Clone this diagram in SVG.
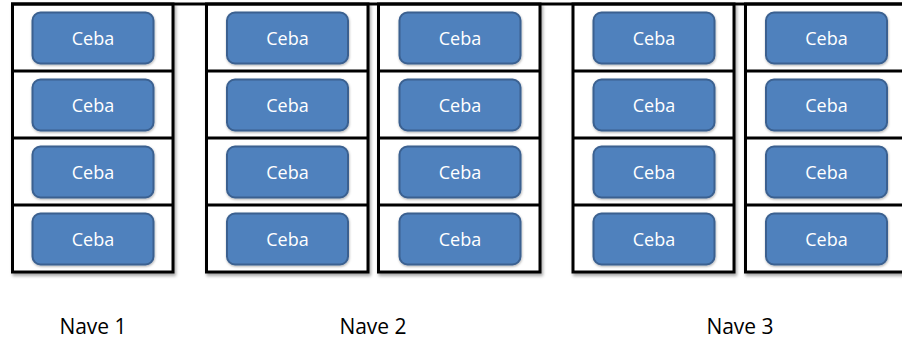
<svg xmlns="http://www.w3.org/2000/svg" width="902" height="339" viewBox="0 0 902 339">
  <defs>
    <filter id="shadow" x="-5%" y="-5%" width="115%" height="115%">
      <feDropShadow dx="1.5" dy="2.5" stdDeviation="1.5" flood-color="#000" flood-opacity="0.35"/>
    </filter>
    <filter id="boxShadow" x="-5%" y="-10%" width="115%" height="125%">
      <feDropShadow dx="0.5" dy="1.2" stdDeviation="0.8" flood-color="#000" flood-opacity="0.3"/>
    </filter>
    <!-- one pen (ceba pen) with its box centred in the cell -->
    <g id="pen">
      <rect class="box" x="0" y="0" width="121" height="51" rx="8" ry="8" filter="url(#boxShadow)"/>
      <text class="lbl" x="60.5" y="32">Ceba</text>
    </g>
  </defs>
  <style>
    .col { fill: #fff; stroke: #000; stroke-width: 3; }
    .sep { stroke: #000; stroke-width: 3; fill: none; }
    .box { fill: #4F81BD; stroke: #3B6190; stroke-width: 2; }
    .lbl { font-family: "Open Sans", "Noto Sans", sans-serif; font-size: 18px; fill: #fff; text-anchor: middle; }
    .nave { font-family: "Open Sans", "Noto Sans", sans-serif; font-size: 21px; fill: #000; text-anchor: middle; }
  </style>

  <rect width="902" height="339" fill="#fff"/>

  <!-- barn columns -->
  <g id="col1">
    <rect class="col" x="12.5" y="4" width="160.5" height="268" filter="url(#shadow)"/>
    <path class="sep" d="M12.5 71H173M12.5 138H173M12.5 205H173"/>
    <use href="#pen" x="32.5" y="12.5"/>
    <use href="#pen" x="32.5" y="79.5"/>
    <use href="#pen" x="32.5" y="146.5"/>
    <use href="#pen" x="32.5" y="213.5"/>
  </g>
  <g id="col2">
    <rect class="col" x="206.5" y="4" width="161.5" height="268" filter="url(#shadow)"/>
    <path class="sep" d="M206.5 71H368M206.5 138H368M206.5 205H368"/>
    <use href="#pen" x="227" y="12.5"/>
    <use href="#pen" x="227" y="79.5"/>
    <use href="#pen" x="227" y="146.5"/>
    <use href="#pen" x="227" y="213.5"/>
  </g>
  <g id="col3">
    <rect class="col" x="378.5" y="4" width="161.5" height="268" filter="url(#shadow)"/>
    <path class="sep" d="M378.5 71H540M378.5 138H540M378.5 205H540"/>
    <use href="#pen" x="399.5" y="12.5"/>
    <use href="#pen" x="399.5" y="79.5"/>
    <use href="#pen" x="399.5" y="146.5"/>
    <use href="#pen" x="399.5" y="213.5"/>
  </g>
  <g id="col4">
    <rect class="col" x="573" y="4" width="161" height="268" filter="url(#shadow)"/>
    <path class="sep" d="M573 71H734M573 138H734M573 205H734"/>
    <use href="#pen" x="593.5" y="12.5"/>
    <use href="#pen" x="593.5" y="79.5"/>
    <use href="#pen" x="593.5" y="146.5"/>
    <use href="#pen" x="593.5" y="213.5"/>
  </g>
  <g id="col5">
    <rect class="col" x="745.5" y="4" width="161" height="268" filter="url(#shadow)"/>
    <path class="sep" d="M745.5 71H906M745.5 138H906M745.5 205H906"/>
    <use href="#pen" x="766" y="12.5"/>
    <use href="#pen" x="766" y="79.5"/>
    <use href="#pen" x="766" y="146.5"/>
    <use href="#pen" x="766" y="213.5"/>
  </g>

  <!-- roof line across all columns -->
  <g id="connectors">
    <path class="sep" d="M11 4H902"/>
  </g>

  <!-- barn labels -->
  <g id="nave1"><text class="nave" x="93" y="334">Nave 1</text></g>
  <g id="nave2"><text class="nave" x="373" y="334">Nave 2</text></g>
  <g id="nave3"><text class="nave" x="740" y="334">Nave 3</text></g>
</svg>
